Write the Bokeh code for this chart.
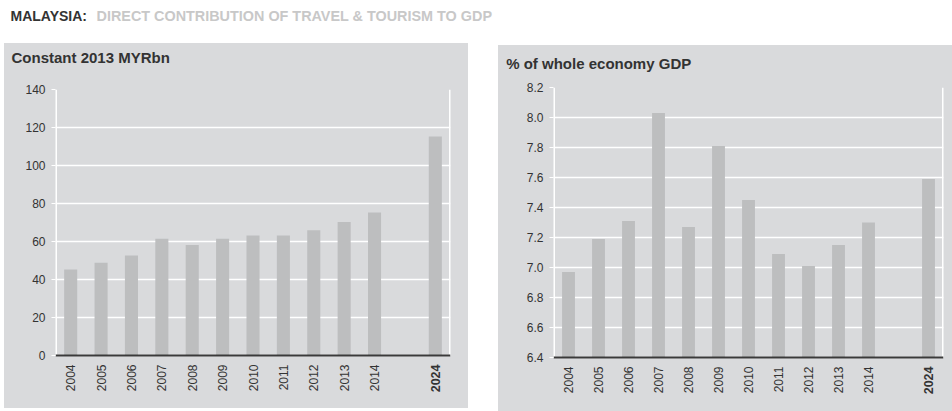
from math import pi
from bokeh.plotting import figure
from bokeh.models import Range1d, FixedTicker, Label, Spacer, ColumnDataSource, NumeralTickFormatter
from bokeh.layouts import column, row
from bokeh.core.properties import value
from bokeh.embed import file_html
from bokeh.resources import INLINE

# ---- data ----
years = ["2004", "2005", "2006", "2007", "2008", "2009", "2010", "2011", "2012", "2013", "2014"]
forecast_year = "2024"
direct_myrbn = [45.3, 48.8, 52.6, 61.5, 58.2, 61.5, 63.1, 63.1, 65.9, 70.3, 75.2]
direct_myrbn_2024 = 115.2
share_gdp = [6.97, 7.19, 7.31, 8.03, 7.27, 7.81, 7.45, 7.09, 7.01, 7.15, 7.30]
share_gdp_2024 = 7.59
left_ticks = [0, 20, 40, 60, 80, 100, 120, 140]
right_ticks = [6.4, 6.6, 6.8, 7.0, 7.2, 7.4, 7.6, 7.8, 8.0, 8.2]

PANEL = "#d9dadc"
BAR = "#bdbebf"
TXT = "#333333"
AXIS = "#3a3a3a"
FONT = "Liberation Sans"


def title_box(text, width, height, tx, ty):
    t = figure(width=width, height=height, x_range=Range1d(0, width), y_range=Range1d(0, height),
               toolbar_location=None, output_backend="svg", min_border=0)
    t.frame_align = False
    t.axis.visible = False
    t.grid.visible = False
    t.outline_line_color = None
    t.background_fill_color = PANEL
    t.border_fill_color = PANEL
    t.add_layout(Label(x=tx, y=ty, text=text, text_font=FONT, text_font_size="15px",
                       text_font_style="bold", text_color=TXT, text_baseline="middle"))
    return t


def panel(values, value_fc, ticks, fmt, width, height, bl, br, bt, main_px, below_px):
    n = len(years)
    xs = list(range(n)) + [n + 1]
    tops = list(values) + [value_fc]
    src = ColumnDataSource(dict(x=xs, top=tops))
    y0, y1 = ticks[0], ticks[-1]
    per_px = (y1 - y0) / main_px
    y_start = y0 - below_px * per_px
    bb = height - bt - main_px - below_px
    x_lo, x_hi = -0.5, n + 1.5
    p = figure(width=width, height=height, x_range=Range1d(x_lo, x_hi),
               y_range=Range1d(y_start, y1), toolbar_location=None,
               output_backend="svg", min_border_left=bl, min_border_right=br,
               min_border_top=bt, min_border_bottom=bb)
    p.frame_align = False
    p.background_fill_color = PANEL
    p.border_fill_color = PANEL
    p.outline_line_color = None
    # grid
    p.xgrid.visible = False
    p.ygrid.ticker = FixedTicker(ticks=ticks)
    p.ygrid.grid_line_color = "white"
    p.ygrid.grid_line_width = 1.5
    # white frame sides
    p.segment(x0=[x_lo, x_hi], y0=[y0, y0], x1=[x_lo, x_hi], y1=[y1, y1],
              line_color="white", line_width=3)
    # bars
    p.vbar(x="x", top="top", bottom=y0, width=0.43, source=src,
           fill_color=BAR, line_color=None)
    # baseline
    p.segment(x0=[x_lo], y0=[y0], x1=[x_hi], y1=[y0], line_color=AXIS, line_width=2)
    # y axis
    p.yaxis.ticker = FixedTicker(ticks=ticks)
    p.yaxis.formatter = NumeralTickFormatter(format=fmt)
    p.yaxis.axis_line_color = None
    p.yaxis.major_tick_line_color = "white"
    p.yaxis.major_tick_out = 4
    p.yaxis.major_tick_in = 0
    p.yaxis.minor_tick_line_color = None
    p.yaxis.major_label_standoff = 6
    p.yaxis.major_label_text_font = FONT
    p.yaxis.major_label_text_font_size = "12px"
    p.yaxis.major_label_text_color = TXT
    # x labels (category years)
    p.xaxis.visible = False
    ylab = y0 - 9 * per_px
    p.text(x=list(range(n)), y=[ylab] * n, text=years, angle=pi / 2,
           text_align="right", text_baseline="middle", text_font=value(FONT),
           text_font_size=value("12px"), text_color=TXT)
    p.text(x=[n + 1], y=[ylab], text=[forecast_year], angle=pi / 2,
           text_align="right", text_baseline="middle", text_font=value(FONT),
           text_font_size=value("12.5px"), text_font_style="bold", text_color=TXT)
    return p


t1 = title_box("Constant 2013 MYRbn", 464, 38, 7, 24)
p1 = panel(direct_myrbn, direct_myrbn_2024, left_ticks, "0", 464, 327, 51, 18, 8, 266, 44)
t2 = title_box("% of whole economy GDP", 454, 34, 7.7, 16.3)
p2 = panel(share_gdp, share_gdp_2024, right_ticks, "0.0", 454, 332, 55, 9, 8, 270, 45)

head = figure(width=952, height=43, x_range=Range1d(0, 952), y_range=Range1d(0, 43),
              toolbar_location=None, output_backend="svg", min_border=0)
head.frame_align = False
head.axis.visible = False
head.grid.visible = False
head.outline_line_color = None
head.background_fill_color = "white"
head.border_fill_color = "white"
head.add_layout(Label(x=10, y=28, text="MALAYSIA:", text_font=FONT, text_font_size="14px",
                      text_font_style="bold", text_color="#333333", text_baseline="middle"))
head.add_layout(Label(x=96, y=28, text="DIRECT CONTRIBUTION OF  TRAVEL & TOURISM TO GDP",
                      text_font=FONT, text_font_size="14.4px", text_font_style="bold",
                      text_color="#c8c8c8", text_baseline="middle"))

left_panel = column(t1, p1, spacing=0, styles={"background-color": PANEL})
right_panel = column(t2, p2, spacing=0, styles={"background-color": PANEL})
layout = column(head, row(Spacer(width=4), left_panel, Spacer(width=30),
                          column(Spacer(height=2), right_panel)))

open("out.html", "w").write(file_html(layout, INLINE))
